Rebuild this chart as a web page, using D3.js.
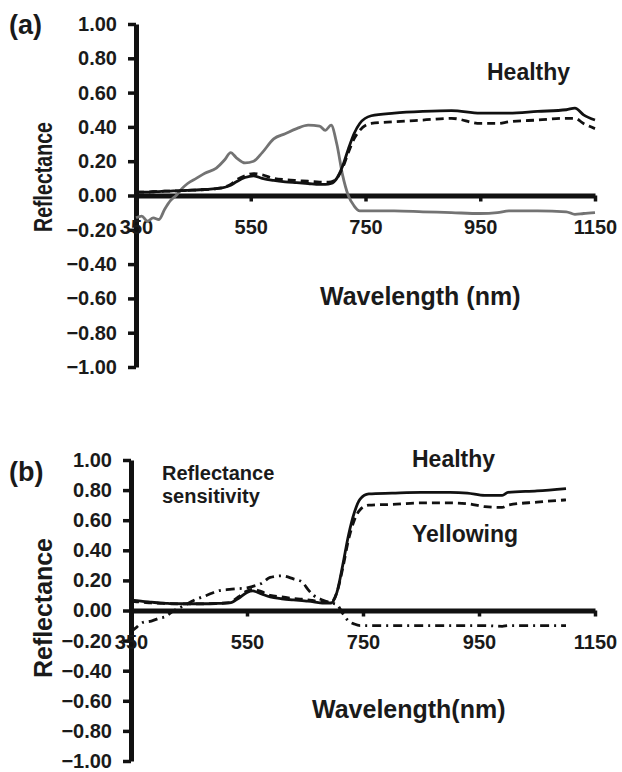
<!DOCTYPE html>
<html>
<head>
<meta charset="utf-8">
<script src="https://cdn.jsdelivr.net/npm/d3@7"></script>
<style>
body { margin: 0; background: #fff; }
svg text { font-family: "Liberation Sans", Arial, sans-serif; font-weight: bold; fill: #1a1a1a; }
</style>
</head>
<body>
<div id="chart"></div>
<script>
// panel (a)
var wlA = [350, 360, 370, 380, 390, 400, 410, 420, 430, 440, 455, 470, 490, 505, 515, 525, 540, 555, 570, 590, 610, 630, 650, 670, 680, 690, 700, 710, 720, 730, 740, 760, 800, 850, 900, 950, 980, 1000, 1050, 1100, 1115, 1130, 1150];
var healthyA = [0.02, 0.02, 0.02, 0.022, 0.023, 0.025, 0.026, 0.027, 0.028, 0.03, 0.032, 0.035, 0.04, 0.048, 0.06, 0.08, 0.105, 0.115, 0.1, 0.088, 0.08, 0.075, 0.07, 0.065, 0.065, 0.07, 0.1, 0.17, 0.27, 0.36, 0.42, 0.465, 0.48, 0.49, 0.495, 0.48, 0.48, 0.48, 0.49, 0.5, 0.51, 0.47, 0.44];
var yellowA = [0.02, 0.02, 0.02, 0.022, 0.023, 0.025, 0.026, 0.027, 0.028, 0.03, 0.032, 0.035, 0.04, 0.05, 0.065, 0.09, 0.115, 0.128, 0.12, 0.1, 0.092, 0.087, 0.083, 0.078, 0.077, 0.08, 0.1, 0.16, 0.25, 0.33, 0.38, 0.42, 0.43, 0.44, 0.45, 0.42, 0.42, 0.43, 0.44, 0.45, 0.45, 0.42, 0.39];
var diffA = [-0.13, -0.12, -0.15, -0.13, -0.14, -0.08, -0.03, 0.0, 0.04, 0.07, 0.1, 0.13, 0.16, 0.21, 0.25, 0.22, 0.19, 0.2, 0.25, 0.33, 0.36, 0.39, 0.41, 0.405, 0.38, 0.41, 0.3, 0.12, 0.0, -0.06, -0.09, -0.09, -0.09, -0.095, -0.1, -0.105, -0.1, -0.09, -0.09, -0.095, -0.11, -0.105, -0.1];

// panel (b)
var wlB = [350, 360, 370, 385, 400, 410, 420, 440, 460, 480, 500, 520, 535, 550, 560, 575, 590, 610, 630, 645, 655, 665, 680, 695, 705, 715, 725, 735, 745, 760, 800, 850, 900, 930, 960, 990, 1000, 1050, 1100];
var healthyB = [0.07, 0.065, 0.06, 0.055, 0.05, 0.048, 0.046, 0.045, 0.045, 0.045, 0.047, 0.05, 0.08, 0.12, 0.13, 0.11, 0.09, 0.078, 0.07, 0.065, 0.062, 0.058, 0.05, 0.05, 0.12, 0.3, 0.5, 0.65, 0.74, 0.775, 0.78, 0.785, 0.785, 0.78, 0.765, 0.765, 0.785, 0.795, 0.81];
var yellowB = [0.06, 0.058, 0.055, 0.05, 0.048, 0.046, 0.045, 0.044, 0.044, 0.045, 0.047, 0.052, 0.09, 0.13, 0.14, 0.125, 0.1, 0.09, 0.08, 0.075, 0.07, 0.065, 0.055, 0.055, 0.12, 0.28, 0.47, 0.6, 0.67, 0.7, 0.705, 0.715, 0.715, 0.71, 0.69, 0.685, 0.7, 0.72, 0.735];
var sensB = [-0.14, -0.11, -0.08, -0.07, -0.05, -0.04, -0.01, 0.03, 0.07, 0.1, 0.13, 0.14, 0.145, 0.15, 0.16, 0.18, 0.22, 0.23, 0.21, 0.19, 0.14, 0.1, 0.07, 0.05, 0.04, -0.02, -0.07, -0.09, -0.1, -0.1, -0.1, -0.1, -0.1, -0.1, -0.1, -0.105, -0.1, -0.1, -0.1];

var xTicks = [350, 550, 750, 950, 1150];
var yTicks = [1, 0.8, 0.6, 0.4, 0.2, 0, -0.2, -0.4, -0.6, -0.8, -1];

var svg = d3.select("#chart").append("svg")
    .attr("width", 622)
    .attr("height", 772);

function panel(cfg) {
    var x = d3.scaleLinear().domain([350, 1150]).range([cfg.left, cfg.right]);
    var y = d3.scaleLinear().domain([-1, 1]).range([cfg.bottom, cfg.top]);
    var g = svg.append("g");

    // y axis
    var ya = g.append("g")
        .attr("transform", "translate(" + cfg.left + ",0)")
        .call(d3.axisLeft(y).tickValues(yTicks).tickSize(8).tickSizeOuter(0).tickPadding(11).tickFormat(d3.format(".2f")));
    ya.select(".domain").attr("stroke", "#111").attr("stroke-width", 5);
    ya.selectAll(".tick line").attr("stroke", "#111").attr("stroke-width", 3.5);
    ya.selectAll(".tick text").style("font-size", "20px").attr("fill", "#1a1a1a");

    // x axis
    var xa = g.append("g")
        .attr("transform", "translate(0," + y(0) + ")")
        .call(d3.axisBottom(x).tickValues(xTicks).tickSize(6).tickSizeOuter(0).tickFormat(d3.format("d")));
    xa.select(".domain").attr("stroke", "#111").attr("stroke-width", 5);
    xa.selectAll(".tick line").attr("stroke", "#111").attr("stroke-width", 3.5);
    xa.selectAll(".tick text").style("font-size", "20px").attr("y", 38).attr("dy", null).attr("fill", "#1a1a1a");

    var line = d3.line().x(function(d) { return x(d[0]); }).y(function(d) { return y(d[1]); }).curve(d3.curveMonotoneX);

    cfg.series.forEach(function(s) {
        g.append("path")
            .datum(cfg.wl.map(function(w, i) { return [w, s.values[i]]; }))
            .attr("fill", "none")
            .attr("stroke", s.color)
            .attr("stroke-width", 2.8)
            .attr("stroke-dasharray", s.dash)
            .attr("stroke-linejoin", "round")
            .attr("d", line);
    });

    cfg.labels.forEach(function(l) {
        var t = g.append("text")
            .attr("x", l.x)
            .attr("y", l.y)
            .style("font-size", l.size + "px")
            .text(l.text);
        if (l.len) t.attr("textLength", l.len).attr("lengthAdjust", "spacingAndGlyphs");
        if (l.rotate) t.attr("transform", "rotate(-90," + l.x + "," + l.y + ")").attr("text-anchor", "middle");
    });
}

panel({
    left: 136, right: 595, top: 24, bottom: 367,
    wl: wlA,
    series: [
        { values: diffA, color: "#737373", dash: null },
        { values: yellowA, color: "#111", dash: "8,5" },
        { values: healthyA, color: "#111", dash: null }
    ],
    labels: [
        { text: "(a)", x: 9, y: 34, size: 27 },
        { text: "Healthy", x: 487, y: 80, size: 23 },
        { text: "Wavelength (nm)", x: 320, y: 305, size: 25 },
        { text: "Reflectance", x: 52, y: 177, size: 25, rotate: true, len: 110 }
    ]
});

panel({
    left: 131, right: 595, top: 460, bottom: 761,
    wl: wlB,
    series: [
        { values: sensB, color: "#111", dash: "9,5,2,5" },
        { values: yellowB, color: "#111", dash: "8,5" },
        { values: healthyB, color: "#111", dash: null }
    ],
    labels: [
        { text: "(b)", x: 9, y: 481, size: 27 },
        { text: "Reflectance", x: 162, y: 480, size: 20 },
        { text: "sensitivity", x: 162, y: 503, size: 20 },
        { text: "Healthy", x: 412, y: 467, size: 23 },
        { text: "Yellowing", x: 412, y: 542, size: 23 },
        { text: "Wavelength(nm)", x: 312, y: 718, size: 25 },
        { text: "Reflectance", x: 52, y: 608, size: 25, rotate: true, len: 140 }
    ]
});
</script>
</body>
</html>
